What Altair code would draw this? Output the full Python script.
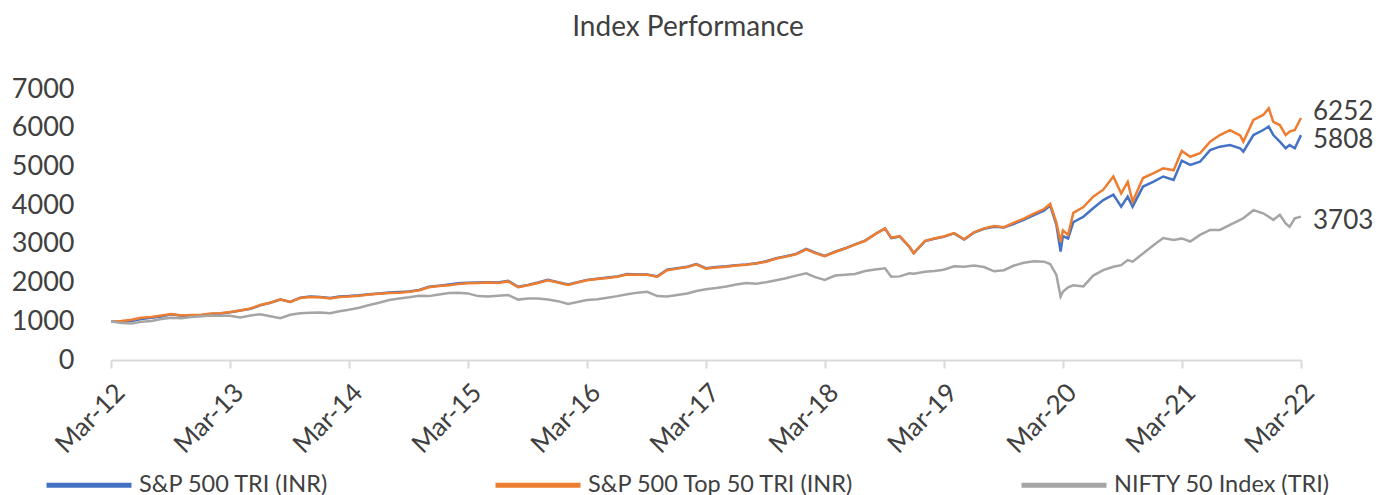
import altair as alt
import pandas as pd

dates = [
    "2012-03-30", "2012-05-01", "2012-06-01", "2012-07-01", "2012-08-01", "2012-09-01",
    "2012-10-01", "2012-11-01", "2012-12-01", "2013-01-01", "2013-02-01", "2013-03-01",
    "2013-03-30", "2013-05-01", "2013-06-01", "2013-07-01", "2013-08-01", "2013-09-01",
    "2013-10-01", "2013-11-01", "2013-12-01", "2014-01-01", "2014-02-01", "2014-03-01",
    "2014-03-30", "2014-05-01", "2014-06-01", "2014-07-01", "2014-08-01", "2014-09-01",
    "2014-10-01", "2014-11-01", "2014-12-01", "2015-01-01", "2015-02-01", "2015-03-01",
    "2015-03-30", "2015-05-01", "2015-06-01", "2015-07-01", "2015-08-01", "2015-09-01",
    "2015-10-01", "2015-11-01", "2015-12-01", "2016-01-01", "2016-02-01", "2016-03-01",
    "2016-03-30", "2016-05-01", "2016-06-01", "2016-07-01", "2016-08-01", "2016-09-01",
    "2016-10-01", "2016-11-01", "2016-12-01", "2017-01-01", "2017-02-01", "2017-03-01",
    "2017-03-30", "2017-05-01", "2017-06-01", "2017-07-01", "2017-08-01", "2017-09-01",
    "2017-10-01", "2017-11-01", "2017-12-01", "2018-01-01", "2018-02-01", "2018-03-01",
    "2018-03-30", "2018-05-01", "2018-06-01", "2018-07-01", "2018-08-01", "2018-09-01",
    "2018-10-01", "2018-10-20", "2018-11-15", "2018-12-15", "2018-12-28", "2019-02-01",
    "2019-03-01", "2019-03-30", "2019-05-01", "2019-06-01", "2019-07-01", "2019-08-01",
    "2019-09-01", "2019-10-01", "2019-11-01", "2019-12-01", "2020-01-01", "2020-02-01",
    "2020-02-20", "2020-03-10", "2020-03-23", "2020-03-30", "2020-04-15", "2020-05-01",
    "2020-06-01", "2020-07-01", "2020-08-01", "2020-09-01", "2020-09-25", "2020-10-15",
    "2020-10-30", "2020-12-01", "2021-01-01", "2021-02-01", "2021-03-05", "2021-03-30",
    "2021-04-25", "2021-05-25", "2021-06-25", "2021-07-25", "2021-08-25", "2021-09-25",
    "2021-10-05", "2021-11-05", "2021-12-05", "2021-12-22", "2022-01-05", "2022-01-25",
    "2022-02-12", "2022-02-24", "2022-03-12", "2022-03-31",
]

sp500_top50 = [
    1000, 1010, 1040, 1090, 1110, 1150, 1190, 1150, 1160, 1170, 1200, 1210,
    1240, 1280, 1330, 1420, 1480, 1570, 1500, 1600, 1630, 1620, 1590, 1630,
    1640, 1660, 1690, 1710, 1730, 1740, 1760, 1800, 1880, 1910, 1930, 1960,
    1980, 1990, 2000, 1990, 2030, 1880, 1930, 1990, 2060, 2000, 1940, 2000,
    2060, 2090, 2120, 2150, 2210, 2200, 2200, 2150, 2320, 2360, 2400, 2470,
    2360, 2390, 2410, 2440, 2460, 2490, 2540, 2620, 2670, 2730, 2860, 2760,
    2680, 2790, 2880, 2980, 3080, 3250, 3400, 3160, 3200, 2930, 2760, 3080,
    3140, 3190, 3280, 3120, 3300, 3400, 3460, 3430, 3550, 3650, 3780, 3900,
    4030, 3550, 3050, 3350, 3230, 3800, 3950, 4220, 4400, 4740, 4300, 4600,
    4090, 4700, 4820, 4950, 4900, 5400, 5250, 5340, 5640, 5810, 5940, 5800,
    5640, 6200, 6330, 6500, 6150, 6070, 5810, 5900, 5940, 6252,
]

sp500 = [
    1000, 985, 1010, 1060, 1090, 1120, 1180, 1140, 1130, 1150, 1190, 1200,
    1230, 1280, 1320, 1410, 1480, 1560, 1500, 1610, 1640, 1630, 1600, 1640,
    1650, 1670, 1700, 1720, 1745, 1755, 1770, 1810, 1890, 1920, 1950, 1980,
    1995, 2005, 2010, 2005, 2045, 1890, 1940, 2000, 2070, 2010, 1950, 2010,
    2070, 2100, 2130, 2160, 2220, 2210, 2210, 2160, 2330, 2370, 2410, 2480,
    2370, 2400, 2420, 2450, 2470, 2500, 2550, 2630, 2680, 2740, 2870, 2770,
    2690, 2800, 2885, 2985, 3085, 3255, 3400, 3150, 3190, 2920, 2760, 3070,
    3130, 3180, 3270, 3110, 3290, 3390, 3440, 3420, 3520, 3620, 3740, 3860,
    3990, 3500, 2800, 3200, 3140, 3560, 3700, 3920, 4130, 4270, 3960, 4220,
    3960, 4480, 4600, 4740, 4650, 5150, 5040, 5120, 5420, 5510, 5550, 5470,
    5380, 5810, 5940, 6030, 5810, 5640, 5470, 5550, 5470, 5808,
]

nifty50 = [
    1000, 955, 940, 990, 1010, 1060, 1090, 1080, 1110, 1130, 1150, 1140,
    1140, 1100, 1150, 1180, 1130, 1080, 1170, 1210, 1220, 1230, 1210, 1260,
    1300, 1350, 1420, 1480, 1550, 1590, 1620, 1660, 1650, 1690, 1730, 1740,
    1720, 1650, 1640, 1660, 1680, 1560, 1590, 1590, 1560, 1520, 1450, 1500,
    1550, 1570, 1610, 1650, 1700, 1740, 1760, 1650, 1640, 1680, 1720, 1780,
    1830, 1860, 1900, 1950, 1990, 1970, 2010, 2060, 2110, 2180, 2240, 2140,
    2070, 2180, 2200, 2220, 2300, 2340, 2370, 2150, 2160, 2240, 2230, 2280,
    2300, 2330, 2420, 2410, 2440, 2400, 2290, 2320, 2440, 2510, 2550, 2540,
    2480, 2200, 1640, 1760, 1880, 1930, 1900, 2180, 2320, 2410, 2450, 2580,
    2540, 2750, 2960, 3150, 3100, 3140, 3060, 3230, 3360, 3360, 3490, 3620,
    3660, 3870, 3790, 3700, 3620, 3750, 3530, 3440, 3660, 3703,
]

series_names = ["S&P 500 TRI (INR)", "S&P 500 Top 50 TRI (INR)", "NIFTY 50 Index (TRI)"]
series_colors = ["#4472C4", "#ED7D31", "#A5A5A5"]
end_labels = ["5808", "6252", "3703"]
label_dy = [5, -6, 4]
y_ticks = [0, 1000, 2000, 3000, 4000, 5000, 6000, 7000]
tick_years = list(range(2012, 2023))

values_by_series = [sp500, sp500_top50, nifty50]
rows = []
for name, vals in zip(series_names, values_by_series):
    for d, v in zip(dates, vals):
        rows.append({"date": d, "value": v, "series": name})
df = pd.DataFrame(rows)

lab_df = pd.DataFrame({
    "date": [dates[-1]] * 3,
    "value": [vals[-1] for vals in values_by_series],
    "series": series_names,
    "label": end_labels,
})

FONT = "Lato"
TXT = "#404040"

x_enc = alt.X(
    "date:T",
    scale=alt.Scale(
        type="utc",
        domain=[alt.DateTime(year=2012, month=3, date=30, utc=True),
                alt.DateTime(year=2022, month=3, date=31, utc=True)],
    ),
    axis=alt.Axis(
        values=[alt.DateTime(year=yy, month=3, date=30, utc=True) for yy in tick_years],
        labelExpr="utcFormat(datum.value, '%b-%y')",
        labelAngle=-45,
        labelFontSize=26,
        labelFont=FONT,
        labelColor=TXT,
        labelPadding=11,
        domainColor="#D9D9D9",
        domainWidth=2,
        tickColor="#D9D9D9",
        tickWidth=2,
        tickSize=8,
        grid=False,
        title=None,
    ),
)

y_enc = alt.Y(
    "value:Q",
    scale=alt.Scale(domain=[0, 7000], nice=False),
    axis=alt.Axis(
        values=y_ticks,
        format="d",
        labelFontSize=27,
        labelFont=FONT,
        labelColor=TXT,
        labelPadding=37,
        domain=False,
        ticks=False,
        tickSize=0,
        grid=False,
        title=None,
    ),
)

color_enc = alt.Color(
    "series:N",
    scale=alt.Scale(domain=series_names, range=series_colors),
    legend=alt.Legend(
        title=None,
        orient="none",
        legendX=-67,
        legendY=351,
        direction="horizontal",
        columns=3,
        columnPadding=156,
        symbolType="stroke",
        symbolSize=7225,
        symbolStrokeWidth=5,
        labelFontSize=23.5,
        labelFont=FONT,
        labelColor=TXT,
        labelLimit=400,
        labelOffset=5,
    ),
)

layers = []
for name in series_names:
    layers.append(
        alt.Chart(df)
        .transform_filter(alt.datum.series == name)
        .mark_line(strokeWidth=2.5, interpolate="linear")
        .encode(x=x_enc, y=y_enc, color=color_enc)
    )

for name, dy in zip(series_names, label_dy):
    layers.append(
        alt.Chart(lab_df)
        .transform_filter(alt.datum.series == name)
        .mark_text(align="left", baseline="middle", dx=12, dy=dy,
                   fontSize=26, font=FONT, color=TXT)
        .encode(x=x_enc, y=y_enc, text="label:N")
    )

chart = (
    alt.layer(*layers)
    .properties(
        width=1190,
        height=271,
        title=alt.TitleParams(
            "Index Performance",
            fontSize=28,
            font=FONT,
            color=TXT,
            fontWeight="normal",
            anchor="middle",
            frame="group",
            dx=-18,
            offset=33,
        ),
        autosize=alt.AutoSizeParams(type="none"),
        padding={"left": 103, "top": 81, "right": 84, "bottom": 135},
    )
    .configure_view(stroke=None)
)

chart.save("out.html", embed_options={"renderer": "svg", "actions": False})
